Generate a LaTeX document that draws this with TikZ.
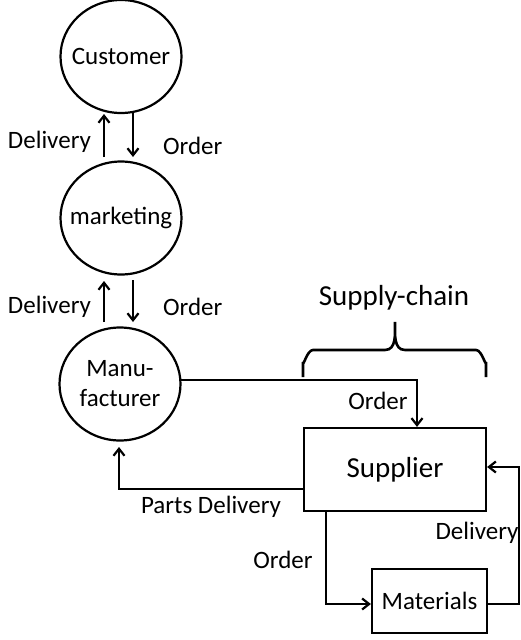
\documentclass[tikz,border=0pt]{standalone}
\usepackage{fontspec}
\setmainfont{Carlito}
\usetikzlibrary{arrows.meta,shapes.geometric}
\begin{document}
\begin{tikzpicture}[x=1pt,y=-1pt,
  line width=2.2pt,
  blob/.style={draw,ellipse,minimum width=121pt,minimum height=113pt,inner sep=0pt},
  blobtext/.style={font=\fontsize{25}{30}\selectfont,align=center,inner sep=0pt},
  boxnode/.style={draw,rectangle,inner sep=0pt},
  lbl/.style={font=\fontsize{25}{30}\selectfont,inner sep=0pt},
  flow/.style={-{Straight Barb[length=7pt,width=11pt,line width=2.2pt]}}
]
\useasboundingbox (0,0) rectangle (521,640);
\node[blob] (cust) at (121,56.5) {};
\node[blobtext] (custt) at (cust.center) {Customer};
\node[blob] (mkt) at (121,218) {};
\node[blobtext] (mktt) at (mkt.center) {marketing};
\node[blob] (manu) at (120,384) {};
\node[blobtext] (manut) at (manu.center) {Manu-\\facturer};
\node[boxnode,minimum width=182pt,minimum height=83pt,font=\fontsize{29}{34}\selectfont] (sup) at (395,469.5) {Supplier};
\node[boxnode,minimum width=115pt,minimum height=64pt,font=\fontsize{25}{30}\selectfont] (mat) at (429.5,601) {Materials};

% customer <-> marketing
\coordinate (a1) at (104,157); \coordinate (a2) at (104,114);
\coordinate (b1) at (133,113); \coordinate (b2) at (133,157);
\draw[flow] (a1) -- (a2);
\draw[flow] (b1) -- (b2);
\node[lbl,anchor=east] (d1) at (92,142) {Delivery};
\node[lbl,anchor=west] (o1) at (162,146) {Order};

% marketing <-> manufacturer
\coordinate (c1) at (104,322); \coordinate (c2) at (104,281);
\coordinate (e1) at (133,280); \coordinate (e2) at (133,322);
\draw[flow] (c1) -- (c2);
\draw[flow] (e1) -- (e2);
\node[lbl,anchor=east] (d2) at (92,307) {Delivery};
\node[lbl,anchor=west] (o2) at (162,307) {Order};

% supply chain brace
\node[font=\fontsize{29}{34}\selectfont,inner sep=0pt] (sc) at (394,298) {Supply-chain};
\draw[line width=2.6pt] (303,377) -- (303,362) to[out=-90,in=180] (313,350) -- (385,350) to[out=0,in=-90] (395,322)
  to[out=-90,in=180] (405,350) -- (476,350) to[out=0,in=-90] (486,362) -- (486,377);

% manufacturer -> supplier
\coordinate (m1) at (180,380);
\coordinate (m2) at (417,380);
\draw[flow] (m1) -- (m2) -- (m2 |- sup.north);
\node[lbl] (o3) at (378,401) {Order};

% supplier -> manufacturer (parts)
\coordinate (p1) at (119,489);
\draw[flow] (sup.west |- p1) -- (p1) -- (119,447);
\node[lbl] (pd) at (211,507) {Parts Delivery};

% supplier -> materials
\coordinate (q1) at (326,604);
\draw[flow] (q1 |- sup.south) -- (q1) -- (mat.west |- q1);
\node[lbl] (o4) at (283,560) {Order};

% materials -> supplier
\coordinate (r1) at (519,604);
\coordinate (r2) at (519,467);
\draw[flow] (mat.east |- r1) -- (r1) -- (r2) -- (sup.east |- r2);
\node[lbl] (d3) at (477,533) {Delivery};
\end{tikzpicture}
\end{document}
